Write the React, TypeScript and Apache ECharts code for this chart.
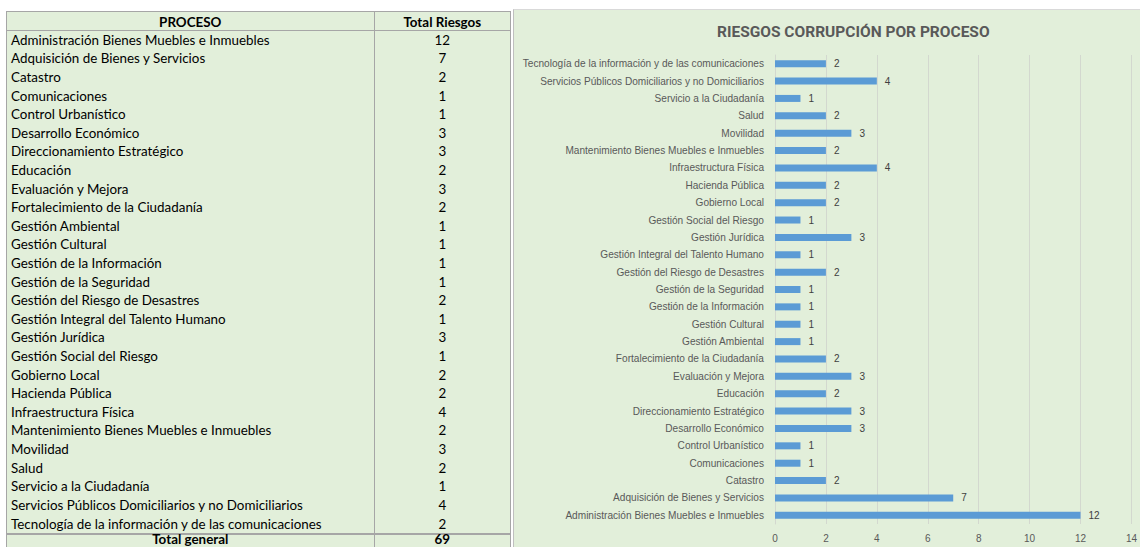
import React, { useEffect, useRef } from "react";
import * as echarts from "echarts";

const procesos: string[] = [
  "Administración Bienes Muebles e Inmuebles",
  "Adquisición de Bienes y Servicios",
  "Catastro",
  "Comunicaciones",
  "Control Urbanístico",
  "Desarrollo Económico",
  "Direccionamiento Estratégico",
  "Educación",
  "Evaluación y Mejora",
  "Fortalecimiento de la Ciudadanía",
  "Gestión Ambiental",
  "Gestión Cultural",
  "Gestión de la Información",
  "Gestión de la Seguridad",
  "Gestión del Riesgo de Desastres",
  "Gestión Integral del Talento Humano",
  "Gestión Jurídica",
  "Gestión Social del Riesgo",
  "Gobierno Local",
  "Hacienda Pública",
  "Infraestructura Física",
  "Mantenimiento Bienes Muebles e Inmuebles",
  "Movilidad",
  "Salud",
  "Servicio a la Ciudadanía",
  "Servicios Públicos Domiciliarios y no Domiciliarios",
  "Tecnología de la información y de las comunicaciones",
];

const totalRiesgos: number[] = [
  12, 7, 2, 1, 1, 3, 3, 2, 3, 2, 1, 1, 1, 1, 2, 1, 3, 1, 2, 2, 4, 2, 3, 2, 1, 4, 2,
];

const totalGeneral = 69;
const chartTitle = "RIESGOS CORRUPCIÓN POR PROCESO";
const headerProceso = "PROCESO";
const headerTotal = "Total Riesgos";
const totalLabel = "Total general";

const BG = "#e2efda";
const BORDER = "#a6a6a6";

function Table() {
  const rowH = 18.62;
  const headerH = 19.7;
  const top = 11;
  const left = 6;
  const col1 = 369;
  const col2 = 136;
  const font = "Lato, 'Open Sans', sans-serif";
  const cellStyle: React.CSSProperties = {
    height: rowH,
    lineHeight: rowH + "px",
    boxSizing: "border-box",
    whiteSpace: "nowrap",
    overflow: "hidden",
  };
  return (
    <div
      style={{
        position: "absolute",
        left,
        top,
        width: col1 + col2,
        height: 547 - top + 4,
        boxSizing: "border-box",
        background: BG,
        border: "1px solid " + BORDER,
        fontFamily: font,
        fontSize: 13.4,
        color: "#000",
      }}
    >
      <div style={{ display: "flex", height: headerH - 1, boxSizing: "border-box", borderBottom: "1px solid " + BORDER }}>
        <div style={{ ...cellStyle, height: headerH - 2, lineHeight: headerH + 1 + "px", width: col1, textAlign: "center", fontWeight: 700, borderRight: "1px solid " + BORDER }}>
          {headerProceso}
        </div>
        <div style={{ ...cellStyle, height: headerH - 2, lineHeight: headerH + 1 + "px", width: col2, textAlign: "center", fontWeight: 700 }}>
          {headerTotal}
        </div>
      </div>
      {procesos.map((p, i) => (
        <div key={p} style={{ display: "flex", height: rowH }}>
          <div style={{ ...cellStyle, width: col1, paddingLeft: 4, borderRight: "1px solid " + BORDER }}>{p}</div>
          <div style={{ ...cellStyle, width: col2, textAlign: "center" }}>{totalRiesgos[i]}</div>
        </div>
      ))}
      <div style={{ display: "flex", borderTop: "2px solid " + BORDER, height: 20, boxSizing: "border-box" }}>
        <div style={{ ...cellStyle, height: 18, lineHeight: "9px", width: col1, textAlign: "center", fontWeight: 700, borderRight: "1px solid " + BORDER, overflow: "visible" }}>
          {totalLabel}
        </div>
        <div style={{ ...cellStyle, height: 18, lineHeight: "9px", width: col2, textAlign: "center", fontWeight: 700, overflow: "visible" }}>{totalGeneral}</div>
      </div>
    </div>
  );
}

function Chart() {
  const ref = useRef<HTMLDivElement>(null);
  useEffect(() => {
    if (!ref.current) return;
    const chart = echarts.init(ref.current, null, { renderer: "svg" });
    const labelFont = "'Liberation Sans', Arial, sans-serif";
    chart.setOption({
      animation: false,
      backgroundColor: BG,
      title: {
        text: chartTitle,
        left: 198,
        top: 9,
        textStyle: {
          fontFamily: "Roboto, sans-serif",
          fontSize: 15.5,
          fontWeight: 700,
          color: "#595959",
        },
      },
      grid: { left: 261, width: 361.5, top: 45, bottom: 23, containLabel: false },
      xAxis: {
        type: "value",
        min: 0,
        max: 14,
        interval: 2,
        axisLine: { show: false },
        axisTick: { show: false },
        splitLine: { show: true, lineStyle: { color: "#d3d8cf", width: 1 } },
        axisLabel: { color: "#595959", fontSize: 10, fontFamily: labelFont, margin: 9 },
      },
      yAxis: {
        type: "category",
        data: procesos,
        axisLine: { show: true, lineStyle: { color: "#d3d8cf" } },
        axisTick: { show: false },
        axisLabel: { color: "#595959", fontSize: 10.1, fontFamily: labelFont, margin: 11 },
      },
      series: [
        {
          type: "bar",
          data: totalRiesgos,
          barWidth: 7,
          itemStyle: { color: "#5b9bd5" },
          label: {
            show: true,
            position: "right",
            distance: 8,
            color: "#404040",
            fontSize: 10,
            fontFamily: labelFont,
          },
        },
      ],
    });
    return () => chart.dispose();
  }, []);
  return (
    <div
      ref={ref}
      style={{
        position: "absolute",
        left: 513,
        top: 9,
        width: 627,
        height: 538,
        borderLeft: "1px solid #bfbfbf",
        borderTop: "1px solid #d9d9d9",
        boxSizing: "border-box",
      }}
    />
  );
}

export default function App() {
  return (
    <div style={{ position: "fixed", left: 0, top: 0, width: 1140, height: 547, background: "#fff", overflow: "hidden" }}>
      <Table />
      <Chart />
    </div>
  );
}
